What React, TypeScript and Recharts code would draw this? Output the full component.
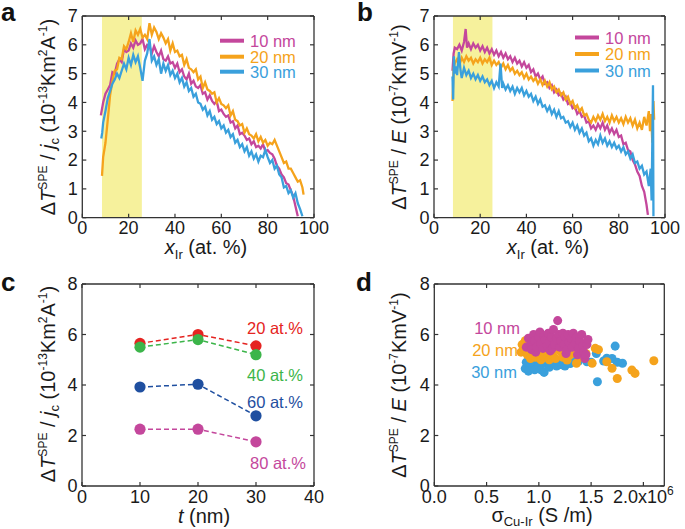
import React from 'react';
import { LineChart, Line, XAxis, YAxis, ReferenceArea, ScatterChart, Scatter } from 'recharts';

const FONT = '"Liberation Sans", Arial, Helvetica, sans-serif';
const AXIS = '#333333';
const MAG = '#c4479c';
const ORA = '#f5a31c';
const BLU = '#3aa0dc';
const YEL = '#f6f19c';
const C_RED = '#e52421';
const C_GRN = '#3cb54a';
const C_NAV = '#1f4fa0';
const C_MAG = '#c4479c';

// ---------- Panel a: ΔT/jc vs x_Ir ----------
const aX10 = [8,9,10,11,12,13,14,15,16,17,18,19,20,21,22,23,24,25,26,27,28,29,30,31,32,33,34,35,36,37,38,39,40,41,42,43,44,45,46,47,48,49,50,51,52,53,54,55,56,57,58,59,60,61,62,63,64,65,66,67,68,69,70,71,72,73,74,75,76,77,78,79,80,81,82,83,84,85,86,87,88,89,90,91,92,93];
const aY10 = [3.55,4.0,4.3,4.45,4.6,5.05,5.0,5.35,5.5,5.4,5.85,5.75,5.8,6.05,5.9,6.15,6.0,6.05,6.2,5.85,6.0,5.95,5.7,5.95,5.75,5.6,5.8,5.5,5.45,5.6,5.35,5.4,5.2,5.35,5.05,5.15,4.9,4.8,5.0,4.65,4.75,4.55,4.5,4.6,4.3,4.35,4.1,4.25,4.05,3.95,4.05,3.7,3.75,3.6,3.5,3.55,3.3,3.35,3.1,3.2,2.9,2.95,2.85,2.7,2.75,2.55,2.65,2.45,2.5,2.4,2.55,2.3,2.35,2.25,2.2,2.05,1.8,1.7,1.5,1.4,1.2,1.15,0.95,0.75,0.4,0.05];
const aX20 = [8.5,9,9.5,10,11,12,13,14,15,16,17,18,19,20,21,22,23,24,25,26,27,28,29,30,31,32,33,34,35,36,37,38,39,40,41,42,43,44,45,46,47,48,49,50,51,52,53,54,55,56,57,58,59,60,61,62,63,64,65,66,67,68,69,70,71,72,73,74,75,76,77,78,79,80,81,82,83,84,85,86,87,88,89,90,91,92,93,94,95,95.5];
const aY20 = [1.45,2.1,2.35,2.6,3.4,4.25,4.75,5.1,5.15,5.55,5.5,5.95,5.85,6.1,6.4,6.1,6.5,6.35,6.55,6.25,6.35,6.2,6.75,6.35,6.6,6.45,6.2,6.4,6.25,6.05,6.2,5.8,6.05,5.75,5.8,5.6,5.65,5.3,5.5,5.2,5.15,5.05,5.15,4.8,4.9,4.5,4.7,4.45,4.4,4.3,4.35,4.0,4.15,3.95,3.9,3.8,3.9,3.55,3.7,3.4,3.35,3.2,3.25,2.95,3.1,2.9,2.85,2.75,2.9,2.65,2.8,2.6,2.7,2.5,2.6,2.55,2.7,2.5,2.3,2.1,1.9,1.95,1.7,1.7,1.55,1.4,1.25,1.3,1.05,0.8];
const aX30 = [8.2,8.6,9,10,11,12,13,14,15,16,17,18,19,20,21,22,23,24,25,26,27,28,29,30,31,32,33,34,35,36,37,38,39,40,41,42,43,44,45,46,47,48,49,50,51,52,53,54,55,56,57,58,59,60,61,62,63,64,65,66,67,68,69,70,71,72,73,74,75,76,77,78,79,80,81,82,83,84,85,86,87,88,89,90,91,92,93,94,95];
const aY30 = [2.75,2.95,3.3,3.7,4.15,4.4,4.65,4.8,5.0,4.85,5.1,5.35,5.15,5.55,5.3,5.65,5.4,5.6,5.2,4.75,5.45,5.7,6.2,5.45,5.6,5.3,5.5,5.0,5.35,5.1,5.3,4.95,5.1,4.85,5.0,4.7,4.85,4.55,4.7,4.4,4.5,4.2,4.3,4.0,3.95,3.75,3.85,3.55,3.7,3.4,3.5,3.25,3.35,3.1,3.2,2.95,3.05,2.8,2.9,2.6,2.7,2.45,2.55,2.3,2.45,2.15,2.3,2.05,2.2,1.95,2.15,2.1,2.35,2.1,1.9,2.0,1.7,1.8,1.5,1.4,1.05,1.1,0.85,0.95,0.7,0.85,0.5,0.3,0.05];

// ---------- Panel b: ΔT/E vs x_Ir ----------
const bX10 = [8,8.5,9,10,11,12,13,13.7,14.3,15,16,17,18,19,20,21,22,23,24,25,26,27,28,29,30,31,32,33,34,35,36,37,38,39,40,41,42,43,44,45,46,47,48,49,50,51,52,53,54,55,56,57,58,59,60,61,62,63,64,65,66,67,68,69,70,71,72,73,74,75,76,77,78,79,80,81,82,83,84,85,86,87,88,89,90,91,92,92.6];
const bY10 = [5.1,5.7,5.9,5.85,6.0,5.8,6.1,6.55,5.9,6.05,5.85,6.05,5.9,6.0,5.8,5.95,5.75,5.9,5.7,5.85,5.65,5.8,5.6,5.75,5.55,5.7,5.5,5.6,5.4,5.55,5.35,5.45,5.25,5.4,5.2,5.3,5.05,5.15,4.9,5.0,4.8,4.9,4.65,4.7,4.5,4.6,4.35,4.45,4.25,4.3,4.1,4.2,3.95,4.0,3.8,3.85,3.6,3.7,3.5,3.55,3.3,3.35,3.1,3.2,3.05,3.25,3.1,3.3,3.05,3.2,2.95,3.1,2.9,3.05,2.8,2.85,2.55,2.6,2.35,2.3,2.0,1.85,1.6,1.45,1.1,0.9,0.45,0.1];
const bX20 = [8,8.5,9,10,11,12,13,14,15,16,17,18,19,20,21,22,23,24,25,26,27,28,29,30,31,32,33,34,35,36,37,38,39,40,41,42,43,44,45,46,47,48,49,50,51,52,53,54,55,56,57,58,59,60,61,62,63,64,65,66,67,68,69,70,71,72,73,74,75,76,77,78,79,80,81,82,83,84,85,86,87,88,89,90,91,92,93,93.5,94,94.5,95,95.3];
const bY20 = [4.05,5.2,5.35,5.5,5.3,5.55,5.4,5.6,5.45,5.55,5.35,5.5,5.4,5.55,5.35,5.5,5.4,5.55,5.3,5.45,5.3,5.4,5.2,5.35,5.15,5.3,5.1,5.2,5.0,5.1,4.95,5.05,4.85,5.0,4.8,4.9,4.75,4.85,4.65,4.8,4.6,4.75,4.55,4.7,4.45,4.55,4.35,4.45,4.25,4.35,4.1,4.2,3.95,4.05,3.8,3.9,3.7,3.8,3.55,3.6,3.4,3.3,3.5,3.35,3.55,3.4,3.6,3.35,3.5,3.3,3.55,3.35,3.5,3.3,3.45,3.25,3.5,3.3,3.45,3.2,3.4,3.1,3.3,3.05,3.5,3.2,3.7,3.0,3.6,2.6,4.05,3.4];
const bX30 = [8,8.3,8.6,9,9.5,10,10.8,11.5,12,13,14,15,16,17,18,19,20,21,22,23,24,25,26,27,28,28.8,29.5,30,31,32,33,34,35,36,37,38,39,40,41,42,43,44,45,46,47,48,49,50,51,52,53,54,55,56,57,58,59,60,61,62,63,64,65,66,67,68,69,70,71,72,73,74,75,76,77,78,79,80,81,82,83,84,85,86,87,88,89,90,91,92,93,93.8,94.2,94.8,95];
const bY30 = [4.9,4.1,5.6,5.0,5.25,4.95,5.75,5.1,4.85,5.2,4.95,5.1,4.85,5.0,4.8,4.95,4.75,4.9,4.7,4.8,4.6,4.75,4.5,4.7,4.55,5.35,4.5,4.65,4.45,4.6,4.4,4.55,4.3,4.5,4.35,4.5,4.25,4.4,4.2,4.3,4.05,4.2,3.95,4.1,3.85,3.9,3.7,3.85,3.6,3.75,3.5,3.7,3.45,3.5,3.3,3.35,3.15,3.3,3.05,3.2,2.95,3.1,2.85,2.95,2.65,2.75,2.5,2.7,2.55,2.85,2.6,2.75,2.5,2.65,2.45,2.6,2.4,2.5,2.3,2.45,2.2,2.3,2.05,2.2,1.9,1.95,1.7,1.8,1.5,1.6,1.1,1.7,0.6,4.6,0.05];

// ---------- Panel c: ΔT/jc vs t ----------
const cT = [10, 20, 30];
const c20 = [5.65, 6.0, 5.55];
const c40 = [5.5, 5.8, 5.2];
const c60 = [3.92, 4.03, 2.78];
const c80 = [2.25, 2.25, 1.75];

// ---------- Panel d: ΔT/E vs σ (10^6 S/m) ----------
const dX30 = [0.87,0.88,0.9,0.92,0.94,0.96,0.98,1.0,1.02,1.04,1.05,1.07,1.1,1.12,1.14,1.17,1.2,1.22,1.25,1.27,1.3,1.33,1.35,1.38,1.46,1.5,1.55,1.56,1.62,1.65,1.7,1.73,1.75,1.8];
const dY30 = [4.65,4.9,4.55,5.1,4.75,4.6,5.0,4.8,4.6,5.05,4.5,4.85,4.7,5.0,4.85,4.75,4.95,4.8,4.75,5.0,4.85,5.1,5.65,4.95,4.92,4.9,5.25,4.13,4.95,5.06,5.05,5.54,4.9,4.86];
const dX20 = [0.83,0.84,0.86,0.87,0.89,0.9,0.92,0.94,0.97,1.0,1.02,1.05,1.08,1.1,1.13,1.16,1.2,1.23,1.27,1.3,1.33,1.36,1.4,1.42,1.45,1.51,1.54,1.57,1.65,1.7,1.75,1.89,1.92,2.1];
const dY20 = [5.3,5.6,5.45,5.75,5.2,5.5,5.05,5.35,5.1,5.25,5.0,5.15,5.3,5.0,5.2,5.05,5.35,5.1,4.99,5.2,5.3,4.86,5.1,5.4,5.25,4.86,5.45,5.4,4.92,4.66,4.26,4.59,4.46,4.96];
const dX10 = [0.88,0.9,0.92,0.93,0.95,0.96,0.97,0.98,1.0,1.01,1.02,1.04,1.05,1.06,1.08,1.09,1.1,1.11,1.12,1.13,1.14,1.15,1.17,1.18,1.19,1.2,1.21,1.23,1.24,1.25,1.26,1.27,1.28,1.29,1.31,1.32,1.33,1.35,1.36,1.37,1.38,1.39,1.41,1.42,1.43,1.44,1.45,1.46,1.47];
const dY10 = [5.5,5.85,5.6,5.4,6.0,5.75,5.3,5.5,5.9,6.1,5.65,5.45,5.95,5.8,5.55,6.05,5.7,5.35,5.9,5.45,6.2,5.6,5.85,6.55,6.0,5.5,5.75,6.05,5.6,5.9,5.25,5.4,6.0,5.7,5.85,5.5,6.05,5.65,5.9,5.2,5.45,5.75,6.0,5.55,5.3,5.05,5.2,5.6,5.8];

const pts = (xs: number[], ys: number[]) => xs.map((x, i) => ({ x, y: ys[i] }));

const tickStyle = { fill: '#1a1a1a', fontSize: 18, fontFamily: FONT };

function frameAxes(xDomain: number[], xTicks: number[], yDomain: number[], yTicks: number[], xTick?: any) {
  return [
    <XAxis key="xb" xAxisId="b" type="number" dataKey="x" domain={xDomain} ticks={xTicks} interval={0}
      allowDataOverflow height={30} tickSize={-4} tickMargin={8}
      axisLine={{ stroke: AXIS, strokeWidth: 1.3 }} tickLine={{ stroke: AXIS, strokeWidth: 1.2 }}
      tick={xTick || tickStyle} />,
    <XAxis key="xt" xAxisId="t" orientation="top" type="number" dataKey="x" domain={xDomain} ticks={xTicks} interval={0}
      allowDataOverflow height={1} tickSize={-4} tickFormatter={() => ''}
      axisLine={{ stroke: AXIS, strokeWidth: 1.3 }} tickLine={{ stroke: AXIS, strokeWidth: 1.2 }} />,
    <YAxis key="yl" yAxisId="l" type="number" dataKey="y" domain={yDomain} ticks={yTicks} interval={0}
      allowDataOverflow width={40} tickSize={-4} tickMargin={8.5}
      axisLine={{ stroke: AXIS, strokeWidth: 1.3 }} tickLine={{ stroke: AXIS, strokeWidth: 1.2 }}
      tick={tickStyle} />,
    <YAxis key="yr" yAxisId="r" orientation="right" type="number" dataKey="y" domain={yDomain} ticks={yTicks} interval={0}
      allowDataOverflow width={1} tickSize={-4} tickFormatter={() => ''}
      axisLine={{ stroke: AXIS, strokeWidth: 1.3 }} tickLine={{ stroke: AXIS, strokeWidth: 1.2 }} />,
  ];
}

const sigmaTick = (props: any) => {
  const { x, y, payload } = props;
  const v = payload.value as number;
  const s = v.toFixed(1);
  return (
    <text x={x} y={y} dy="0.71em" textAnchor="middle" fontSize={18} fontFamily={FONT} fill="#1a1a1a">
      {v === 2 ? (
        <>
          {s}x10<tspan fontSize={12} dy={-8}>6</tspan>
        </>
      ) : s}
    </text>
  );
};

const cDot = (color: string) => (props: any) => (
  <circle key={`d${props.index}`} cx={props.cx} cy={props.cy} r={5.6} fill={color} stroke="none" />
);

function YTitleA({ x, y, unit }: { x: number; y: number; unit: 'j' | 'E' }) {
  return (
    <text transform={`translate(${x},${y}) rotate(-90)`} textAnchor="middle" fontSize={20} fontFamily={FONT} fill="#1a1a1a">
      Δ<tspan fontStyle="italic">T</tspan>
      <tspan fontSize={12} dy={-8}>SPE</tspan>
      <tspan dy={8}> / </tspan>
      {unit === 'j' ? (
        <>
          <tspan fontStyle="italic">j</tspan>
          <tspan fontSize={13} dy={4}>c</tspan>
          <tspan dy={-4}> (10</tspan>
          <tspan fontSize={12} dy={-8}>-13</tspan>
          <tspan dy={8}>Km</tspan>
          <tspan fontSize={12} dy={-8}>2</tspan>
          <tspan dy={8}>A</tspan>
          <tspan fontSize={12} dy={-8}>-1</tspan>
          <tspan dy={8}>)</tspan>
        </>
      ) : (
        <>
          <tspan fontStyle="italic">E</tspan>
          <tspan> (10</tspan>
          <tspan fontSize={12} dy={-8}>-7</tspan>
          <tspan dy={8}>KmV</tspan>
          <tspan fontSize={12} dy={-8}>-1</tspan>
          <tspan dy={8}>)</tspan>
        </>
      )}
    </text>
  );
}

function XIrTitle({ x, y }: { x: number; y: number }) {
  return (
    <text x={x} y={y} textAnchor="middle" fontSize={20} fontFamily={FONT} fill="#1a1a1a">
      <tspan fontStyle="italic">x</tspan>
      <tspan fontSize={13} dy={5}>Ir</tspan>
      <tspan dy={-5}> (at. %)</tspan>
    </text>
  );
}

function Legend3({ x, ys }: { x: number; ys: number[] }) {
  const items = [
    { c: MAG, t: '10 nm' },
    { c: ORA, t: '20 nm' },
    { c: BLU, t: '30 nm' },
  ];
  return (
    <g>
      {items.map((it, i) => (
        <g key={it.t}>
          <line x1={x} x2={x + 24} y1={ys[i]} y2={ys[i]} stroke={it.c} strokeWidth={4} />
          <text x={x + 30} y={ys[i] + 6} fontSize={16.5} fontFamily={FONT} fill={it.c}>{it.t}</text>
        </g>
      ))}
    </g>
  );
}

const letter = { fontSize: 26, fontWeight: 700, fontFamily: FONT, fill: '#111' } as const;

export default function App() {
  return (
    <div style={{ position: 'absolute', left: 0, top: 0, width: 685, height: 529, background: '#fff', overflow: 'hidden' }}>
      {/* Panel a */}
      <div style={{ position: 'absolute', left: 0, top: 0 }}>
        <LineChart width={340} height={265} margin={{ top: 15, left: 42.3, right: 25, bottom: 17.3 }}>
          {frameAxes([0, 100], [0, 20, 40, 60, 80, 100], [0, 7], [0, 1, 2, 3, 4, 5, 6, 7])}
          <ReferenceArea xAxisId="b" yAxisId="l" x1={8.5} x2={25.7} y1={0} y2={7} fill={YEL} fillOpacity={1} stroke="none" />
          <Line xAxisId="b" yAxisId="l" data={pts(aX10, aY10)} dataKey="y" stroke={MAG} strokeWidth={2.3} dot={false} isAnimationActive={false} />
          <Line xAxisId="b" yAxisId="l" data={pts(aX20, aY20)} dataKey="y" stroke={ORA} strokeWidth={2.3} dot={false} isAnimationActive={false} />
          <Line xAxisId="b" yAxisId="l" data={pts(aX30, aY30)} dataKey="y" stroke={BLU} strokeWidth={2.3} dot={false} isAnimationActive={false} />
        </LineChart>
      </div>
      {/* Panel b */}
      <div style={{ position: 'absolute', left: 340, top: 0 }}>
        <LineChart width={345} height={265} margin={{ top: 15, left: 54, right: 19, bottom: 17.3 }}>
          {frameAxes([0, 100], [0, 20, 40, 60, 80, 100], [0, 7], [0, 1, 2, 3, 4, 5, 6, 7])}
          <ReferenceArea xAxisId="b" yAxisId="l" x1={8.2} x2={25.3} y1={0} y2={7} fill={YEL} fillOpacity={1} stroke="none" />
          <Line xAxisId="b" yAxisId="l" data={pts(bX10, bY10)} dataKey="y" stroke={MAG} strokeWidth={2.3} dot={false} isAnimationActive={false} />
          <Line xAxisId="b" yAxisId="l" data={pts(bX20, bY20)} dataKey="y" stroke={ORA} strokeWidth={2.3} dot={false} isAnimationActive={false} />
          <Line xAxisId="b" yAxisId="l" data={pts(bX30, bY30)} dataKey="y" stroke={BLU} strokeWidth={2.3} dot={false} isAnimationActive={false} />
        </LineChart>
      </div>
      {/* Panel c */}
      <div style={{ position: 'absolute', left: 0, top: 265 }}>
        <LineChart width={340} height={264} margin={{ top: 18, left: 42, right: 25, bottom: 13 }}>
          {frameAxes([0, 40], [0, 10, 20, 30, 40], [0, 8], [0, 2, 4, 6, 8])}
          <Line xAxisId="b" yAxisId="l" data={pts(cT, c20)} dataKey="y" stroke={C_RED} strokeWidth={1.5} strokeDasharray="5 3" dot={cDot(C_RED)} isAnimationActive={false} />
          <Line xAxisId="b" yAxisId="l" data={pts(cT, c40)} dataKey="y" stroke={C_GRN} strokeWidth={1.5} strokeDasharray="5 3" dot={cDot(C_GRN)} isAnimationActive={false} />
          <Line xAxisId="b" yAxisId="l" data={pts(cT, c60)} dataKey="y" stroke={C_NAV} strokeWidth={1.5} strokeDasharray="5 3" dot={cDot(C_NAV)} isAnimationActive={false} />
          <Line xAxisId="b" yAxisId="l" data={pts(cT, c80)} dataKey="y" stroke={C_MAG} strokeWidth={1.5} strokeDasharray="5 3" dot={cDot(C_MAG)} isAnimationActive={false} />
        </LineChart>
      </div>
      {/* Panel d */}
      <div style={{ position: 'absolute', left: 340, top: 265 }}>
        <ScatterChart width={345} height={264} margin={{ top: 18, left: 54.3, right: 19.7, bottom: 13 }}>
          {frameAxes([0, 2.2], [0, 0.5, 1, 1.5, 2], [0, 8], [0, 2, 4, 6, 8], sigmaTick)}
          <Scatter xAxisId="b" yAxisId="l" data={pts(dX30, dY30)} fill={BLU} isAnimationActive={false} />
          <Scatter xAxisId="b" yAxisId="l" data={pts(dX20, dY20)} fill={ORA} isAnimationActive={false} />
          <Scatter xAxisId="b" yAxisId="l" data={pts(dX10, dY10)} fill={MAG} isAnimationActive={false} />
        </ScatterChart>
      </div>

      {/* Text overlay */}
      <svg width={685} height={529} style={{ position: 'absolute', left: 0, top: 0, pointerEvents: 'none' }}>
        <text x={1} y={21} {...letter}>a</text>
        <text x={357} y={21} {...letter}>b</text>
        <text x={1} y={290.5} {...letter}>c</text>
        <text x={356} y={290.5} {...letter}>d</text>

        <YTitleA x={55} y={117} unit="j" />
        <YTitleA x={406} y={117} unit="E" />
        <YTitleA x={55} y={384} unit="j" />
        <YTitleA x={406} y={385} unit="E" />

        <XIrTitle x={206} y={254} />
        <XIrTitle x={548} y={254} />
        <text x={204} y={523} textAnchor="middle" fontSize={20} fontFamily={FONT} fill="#1a1a1a">
          <tspan fontStyle="italic">t</tspan> (nm)
        </text>
        <text x={542} y={522} textAnchor="middle" fontSize={20} fontFamily={FONT} fill="#1a1a1a">
          σ<tspan fontSize={13} dy={4}>Cu-Ir</tspan><tspan dy={-4}> (S /m)</tspan>
        </text>

        <Legend3 x={220} ys={[40.7, 56.7, 71.7]} />
        <Legend3 x={575} ys={[37.5, 54, 70.5]} />

        <text x={247} y={334} fontSize={16.5} fontFamily={FONT} fill={C_RED}>20 at.%</text>
        <text x={247} y={381} fontSize={16.5} fontFamily={FONT} fill={C_GRN}>40 at.%</text>
        <text x={247} y={407.5} fontSize={16.5} fontFamily={FONT} fill={C_NAV}>60 at.%</text>
        <text x={250} y={468.5} fontSize={16.5} fontFamily={FONT} fill={C_MAG}>80 at.%</text>

        <text x={520} y={334} textAnchor="end" fontSize={16.5} fontFamily={FONT} fill={MAG}>10 nm</text>
        <text x={518} y={355.5} textAnchor="end" fontSize={16.5} fontFamily={FONT} fill={ORA}>20 nm</text>
        <text x={517} y={377.5} textAnchor="end" fontSize={16.5} fontFamily={FONT} fill={BLU}>30 nm</text>
      </svg>
    </div>
  );
}
